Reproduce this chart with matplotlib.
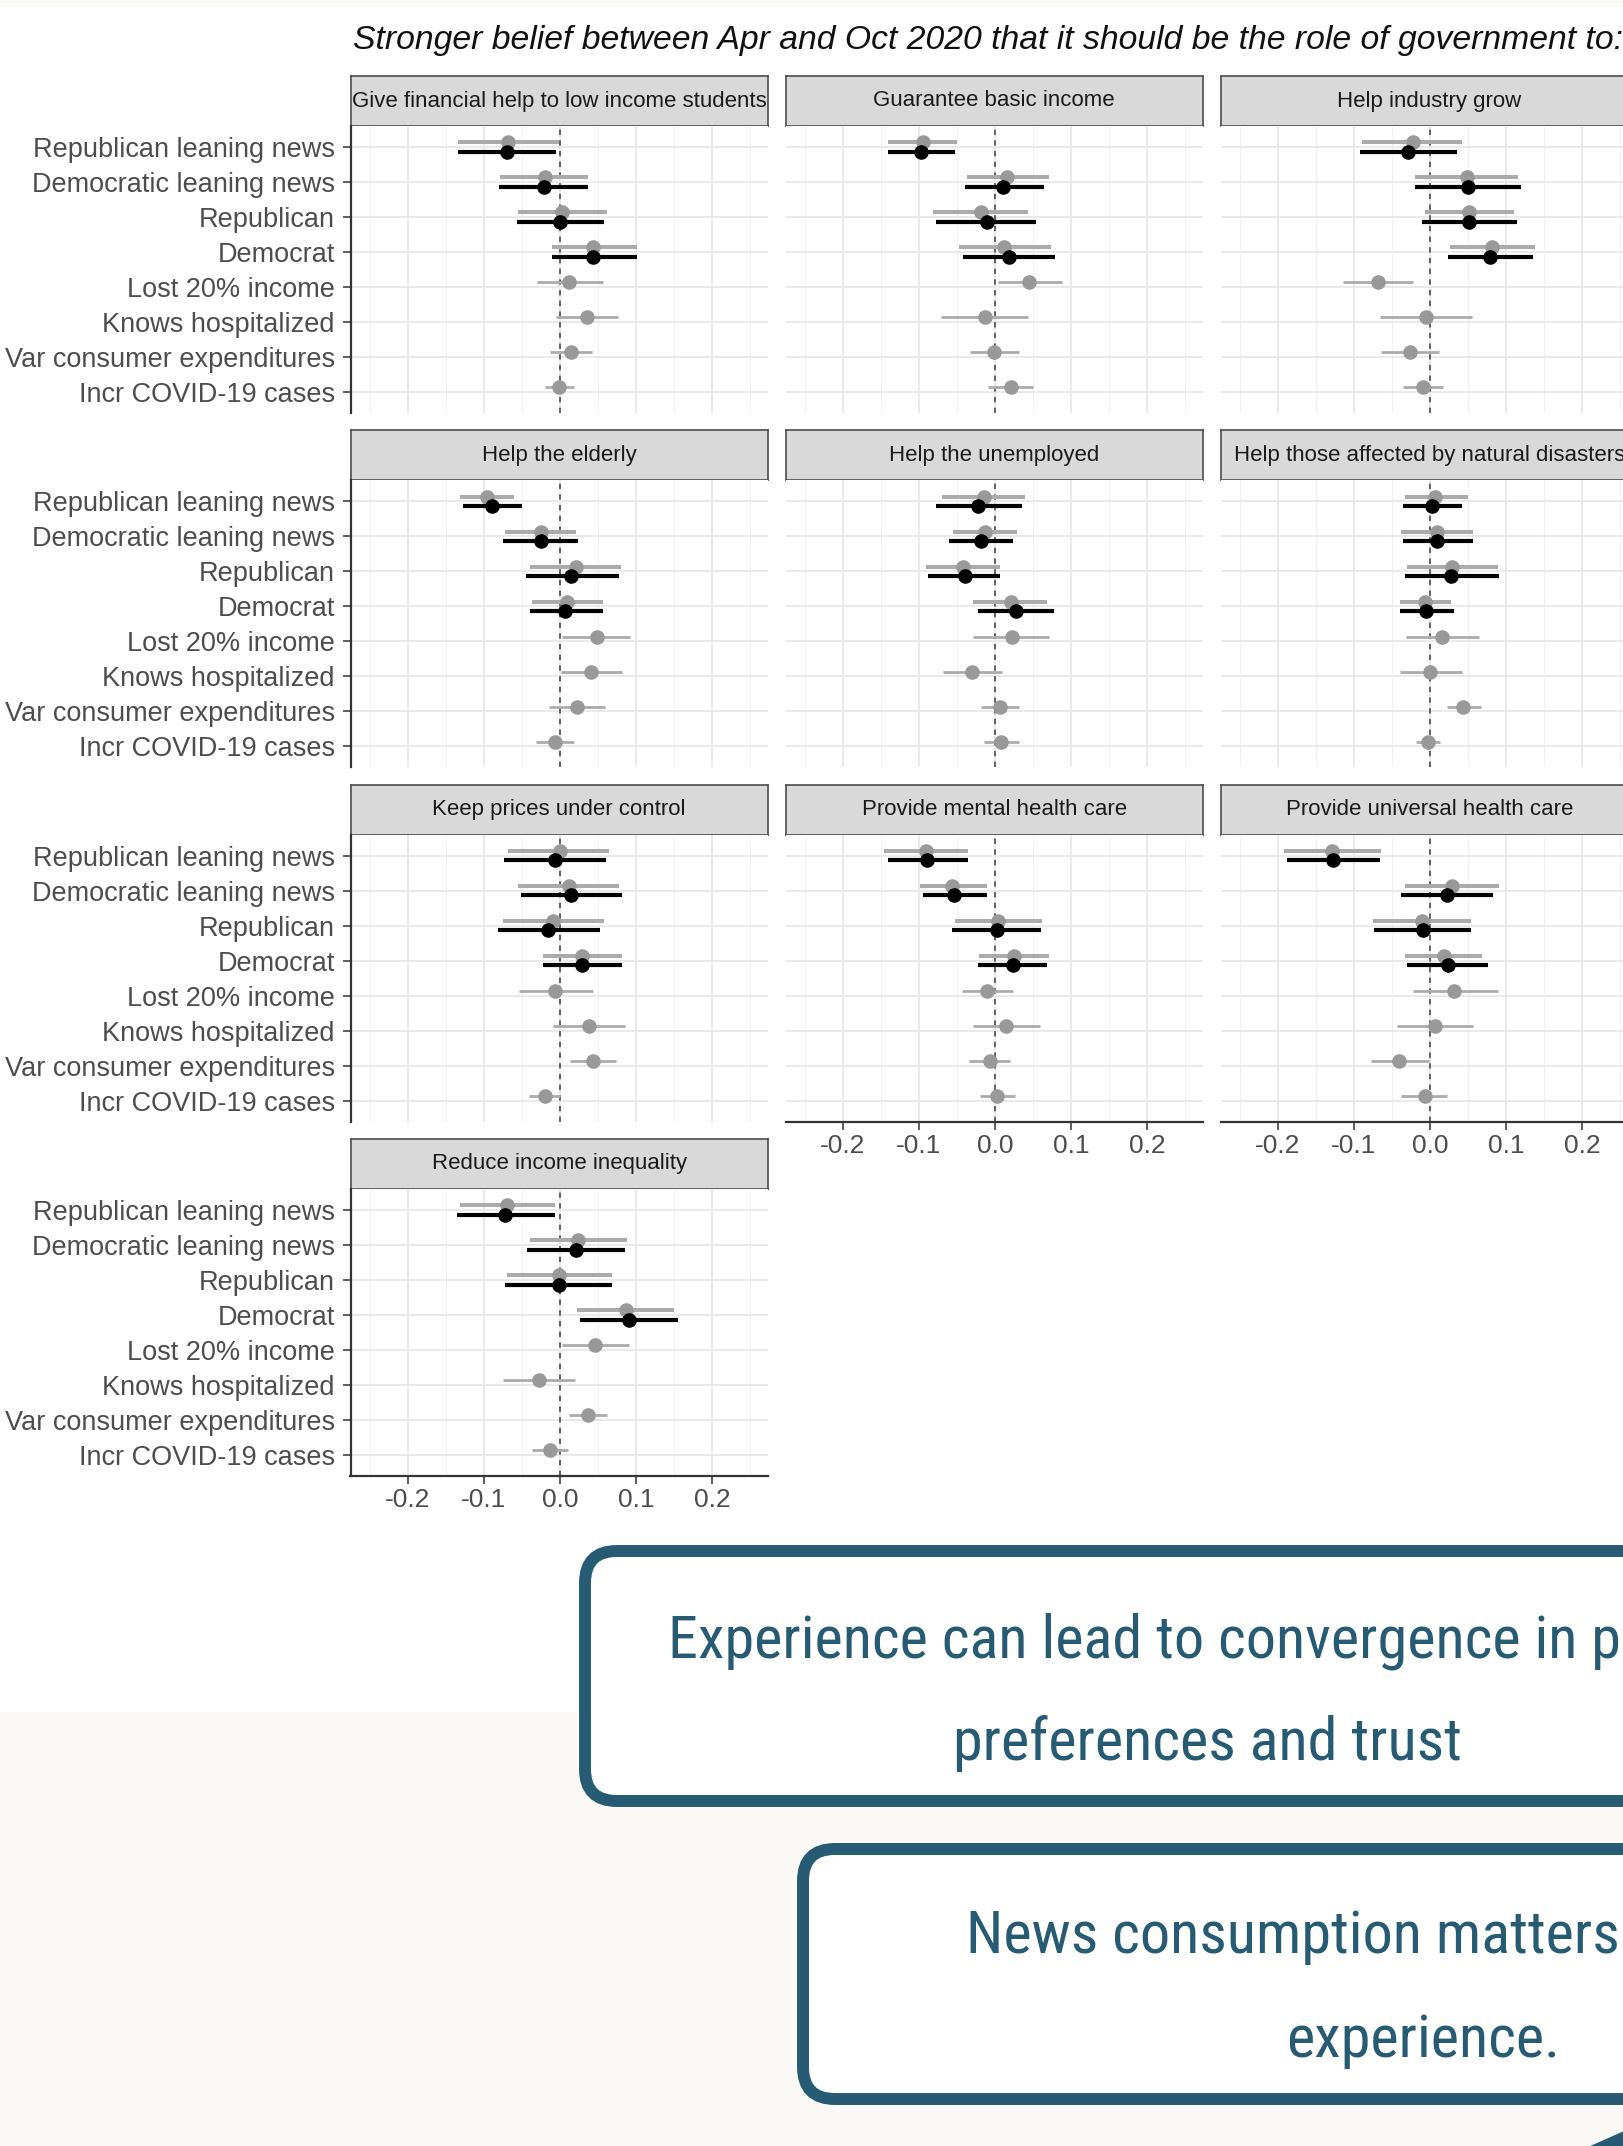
import matplotlib
matplotlib.use("Agg")
import matplotlib.pyplot as plt
from matplotlib import font_manager as fm
from matplotlib.patches import Rectangle, FancyBboxPatch, Polygon
import numpy as np

# canvas size in pixels (dpi 100)
W, H = 1623, 2146

# ---------------------------------------------------------------------------
# DATA
# ---------------------------------------------------------------------------
categories = ['Republican leaning news', 'Democratic leaning news', 'Republican',
              'Democrat', 'Lost 20% income', 'Knows hospitalized',
              'Var consumer expenditures', 'Incr COVID-19 cases']

panels = ['Give financial help to low income students', 'Guarantee basic income',
          'Help industry grow', 'Help the elderly', 'Help the unemployed',
          'Help those affected by natural disasters', 'Keep prices under control',
          'Provide mental health care', 'Provide universal health care',
          'Reduce income inequality']

# grey estimates: all 8 covariates
gray_est = [
    [-0.068, -0.020, 0.002, 0.044, 0.012, 0.036, 0.014, -0.001],
    [-0.095, 0.016, -0.018, 0.012, 0.045, -0.013, -0.001, 0.021],
    [-0.023, 0.048, 0.051, 0.082, -0.068, -0.005, -0.026, -0.009],
    [-0.096, -0.025, 0.021, 0.009, 0.048, 0.041, 0.022, -0.007],
    [-0.015, -0.013, -0.042, 0.021, 0.022, -0.030, 0.007, 0.008],
    [0.006, 0.009, 0.029, -0.006, 0.016, 0.000, 0.043, -0.003],
    [0.000, 0.012, -0.009, 0.029, -0.006, 0.038, 0.043, -0.020],
    [-0.091, -0.056, 0.004, 0.025, -0.010, 0.015, -0.007, 0.002],
    [-0.129, 0.029, -0.010, 0.018, 0.032, 0.006, -0.041, -0.007],
    [-0.070, 0.023, -0.001, 0.087, 0.046, -0.028, 0.037, -0.013],
]
gray_lo = [
    [-0.134, -0.079, -0.055, -0.011, -0.030, -0.005, -0.013, -0.020],
    [-0.141, -0.037, -0.082, -0.048, 0.004, -0.071, -0.033, -0.009],
    [-0.090, -0.020, -0.007, 0.026, -0.115, -0.066, -0.064, -0.035],
    [-0.131, -0.072, -0.039, -0.037, 0.003, 0.001, -0.014, -0.031],
    [-0.070, -0.055, -0.091, -0.029, -0.029, -0.068, -0.018, -0.015],
    [-0.033, -0.038, -0.030, -0.039, -0.031, -0.039, 0.022, -0.018],
    [-0.068, -0.055, -0.075, -0.022, -0.054, -0.009, 0.013, -0.041],
    [-0.146, -0.099, -0.052, -0.021, -0.043, -0.029, -0.034, -0.020],
    [-0.192, -0.033, -0.075, -0.033, -0.023, -0.043, -0.078, -0.038],
    [-0.132, -0.040, -0.070, 0.022, 0.003, -0.075, 0.012, -0.037],
]
gray_hi = [
    [-0.001, 0.037, 0.062, 0.101, 0.056, 0.076, 0.042, 0.019],
    [-0.050, 0.071, 0.044, 0.073, 0.088, 0.044, 0.031, 0.050],
    [0.042, 0.116, 0.110, 0.138, -0.022, 0.055, 0.012, 0.017],
    [-0.061, 0.021, 0.080, 0.056, 0.092, 0.082, 0.059, 0.018],
    [0.040, 0.029, 0.007, 0.069, 0.071, 0.009, 0.032, 0.032],
    [0.050, 0.056, 0.089, 0.028, 0.064, 0.042, 0.067, 0.013],
    [0.065, 0.078, 0.058, 0.081, 0.043, 0.085, 0.074, 0.000],
    [-0.036, -0.011, 0.062, 0.071, 0.024, 0.059, 0.020, 0.026],
    [-0.064, 0.091, 0.054, 0.069, 0.089, 0.057, -0.001, 0.022],
    [-0.007, 0.088, 0.068, 0.150, 0.091, 0.020, 0.062, 0.010],
]

# black estimates: only the first 4 covariates (news + party)
black_est = [
    [-0.070, -0.021, 0.000, 0.044],
    [-0.097, 0.011, -0.011, 0.018],
    [-0.029, 0.050, 0.051, 0.079],
    [-0.089, -0.025, 0.015, 0.007],
    [-0.022, -0.019, -0.040, 0.028],
    [0.002, 0.009, 0.028, -0.005],
    [-0.007, 0.015, -0.016, 0.029],
    [-0.089, -0.054, 0.002, 0.024],
    [-0.128, 0.022, -0.009, 0.024],
    [-0.072, 0.021, -0.001, 0.091],
]
black_lo = [
    [-0.134, -0.080, -0.057, -0.011],
    [-0.141, -0.040, -0.077, -0.042],
    [-0.092, -0.020, -0.010, 0.024],
    [-0.128, -0.075, -0.045, -0.040],
    [-0.078, -0.061, -0.088, -0.022],
    [-0.036, -0.036, -0.033, -0.039],
    [-0.074, -0.051, -0.082, -0.023],
    [-0.141, -0.095, -0.056, -0.023],
    [-0.188, -0.038, -0.074, -0.030],
    [-0.136, -0.043, -0.072, 0.026],
]
black_hi = [
    [-0.005, 0.037, 0.058, 0.101],
    [-0.053, 0.064, 0.054, 0.079],
    [0.035, 0.119, 0.114, 0.136],
    [-0.050, 0.024, 0.078, 0.057],
    [0.035, 0.024, 0.007, 0.077],
    [0.042, 0.057, 0.091, 0.031],
    [0.061, 0.081, 0.053, 0.081],
    [-0.036, -0.011, 0.061, 0.069],
    [-0.066, 0.083, 0.054, 0.076],
    [-0.007, 0.086, 0.069, 0.155],
]

x_ticks = [-0.2, -0.1, 0.0, 0.1, 0.2]
x_ticklabels = ['-0.2', '-0.1', '0.0', '0.1', '0.2']

title = 'Stronger belief between Apr and Oct 2020 that it should be the role of government to:'
box1_lines = ['Experience can lead to convergence in policy', 'preferences and trust']
box2_lines = ['News consumption matters', 'experience.']

# ---------------------------------------------------------------------------
# LAYOUT (pixels from top-left)
# ---------------------------------------------------------------------------
COL_X = [350.5, 785.5, 1220.5]
PANEL_W = 417.5
ROW_Y = [76, 430.3, 784.6, 1139]   # strip tops
STRIP_H = 50
PANEL_H = 287
XLIM = (-0.2755, 0.2735)
DODGE = 0.13

GRAY_PT = '#999999'
GRAY_LN = '#ababab'
TEAL = '#275b73'
BG = '#faf9f5'


def frac(x, y, w, h):
    return [x / W, 1 - (y + h) / H, w / W, h / H]


def narrow_font():
    """Pick the narrowest sans face that is actually installed."""
    for fam in ['Liberation Sans Narrow', 'Roboto Condensed', 'DejaVu Sans Condensed',
                'Open Sans Condensed', 'Noto Sans Condensed', 'Arial Narrow']:
        try:
            fm.findfont(fm.FontProperties(family=fam), fallback_to_default=False)
            return dict(family=fam)
        except ValueError:
            pass
    for fam in ['Noto Sans', 'DejaVu Sans', 'Open Sans', 'Roboto', 'Liberation Sans']:
        try:
            path = fm.findfont(fm.FontProperties(family=fam, stretch='condensed'),
                               fallback_to_default=False)
        except ValueError:
            continue
        low = path.lower()
        if 'condensed' in low or 'narrow' in low:
            return dict(family=fam, fontstretch='condensed')
    return dict(family='Liberation Sans')


fig = plt.figure(figsize=(W / 100, H / 100), dpi=100, facecolor=BG)
renderer = fig.canvas.get_renderer()


def fit_size(text, width_px, **kw):
    t = fig.text(0, 0, text, fontsize=100, **kw)
    w = t.get_window_extent(renderer=renderer).width
    t.remove()
    return 100 * width_px / w


# white backdrop behind the chart
bg = fig.add_axes([0, 0, 1, 1], zorder=-10)
bg.set_xlim(0, W)
bg.set_ylim(H, 0)
bg.axis('off')
bg.add_patch(Rectangle((0, 7), W, 1705, facecolor='white', edgecolor='none'))

yvals = np.arange(len(categories), 0, -1)  # top category at 8

for i, name in enumerate(panels):
    r, c = divmod(i, 3)
    x0 = COL_X[c]
    y0 = ROW_Y[r]
    bottom_panel = (r == 3) or (r == 2 and c > 0)

    # strip
    st = fig.add_axes(frac(x0, y0, PANEL_W, STRIP_H))
    st.set_facecolor('#d9d9d9')
    st.set_xticks([])
    st.set_yticks([])
    for s in st.spines.values():
        s.set_color('#4d4d4d')
        s.set_linewidth(1.2)
    st.text(0.5, 0.5, name, transform=st.transAxes, ha='center', va='center',
            fontsize=16, color='#1a1a1a', family='Liberation Sans', clip_on=True)

    ax = fig.add_axes(frac(x0, y0 + STRIP_H, PANEL_W, PANEL_H))
    ax.set_facecolor('white')
    ax.set_xlim(*XLIM)
    ax.set_ylim(0.4, 8.6)
    ax.set_xticks(x_ticks)
    ax.set_xticks([-0.25, -0.15, -0.05, 0.05, 0.15, 0.25], minor=True)
    ax.set_yticks(yvals)
    ax.set_axisbelow(True)
    ax.grid(which='major', color='#e8e8e8', lw=1.3)
    ax.grid(which='minor', axis='x', color='#f2f2f2', lw=0.8)
    ax.tick_params(which='minor', length=0)

    ax.axvline(0, color='#3d3d3d', lw=1.1, ls=(0, (3.5, 3.5)), zorder=1)

    # grey estimates (all covariates)
    ge = np.array(gray_est[i])
    gl = np.array(gray_lo[i])
    gh = np.array(gray_hi[i])
    lw_g = [2.9] * 4 + [2.0] * 4
    ax.hlines(yvals + DODGE, gl, gh, colors=GRAY_LN, lw=lw_g, zorder=2)
    ax.plot(ge, yvals + DODGE, 'o', color=GRAY_PT, ms=10.5, mec='none', zorder=3)

    # black estimates (first four)
    be = np.array(black_est[i])
    bl = np.array(black_lo[i])
    bh = np.array(black_hi[i])
    yb = yvals[:4] - DODGE
    ax.hlines(yb, bl, bh, colors='black', lw=3.0, zorder=4)
    ax.plot(be, yb, 'o', color='black', ms=10.5, mec='none', zorder=5)

    for s in ['top', 'right']:
        ax.spines[s].set_visible(False)
    ax.spines['left'].set_visible(c == 0)
    ax.spines['bottom'].set_visible(bottom_panel)
    for s in ['left', 'bottom']:
        ax.spines[s].set_color('#333333')
        ax.spines[s].set_linewidth(1.6)

    if c == 0:
        ax.set_yticklabels(categories)
        ax.tick_params(axis='y', which='major', length=5.8, width=1.1,
                       color='#333333', labelsize=19.5, labelcolor='#4d4d4d', pad=5.5)
    else:
        ax.tick_params(axis='y', which='major', length=0, labelleft=False)

    if bottom_panel:
        ax.set_xticklabels(x_ticklabels)
        ax.tick_params(axis='x', which='major', length=5.8, width=1.1,
                       color='#333333', labelsize=19, labelcolor='#4d4d4d', pad=3)
    else:
        ax.tick_params(axis='x', which='major', length=0, labelbottom=False)

    for lab in ax.get_xticklabels() + ax.get_yticklabels():
        lab.set_family('Liberation Sans')

# overlay for title and call-out boxes
ov = fig.add_axes([0, 0, 1, 1], zorder=20)
ov.set_xlim(0, W)
ov.set_ylim(H, 0)
ov.axis('off')
ov.patch.set_alpha(0)

tsize = fit_size(title, 1272, family='Liberation Sans', style='italic')
ov.text(353, 49, title, fontsize=tsize, family='Liberation Sans', style='italic',
        color='#111111', ha='left', va='baseline')

box_font = narrow_font()
bsize = fit_size(box1_lines[1], 509, **box_font)

for (bx, by, bw, bh) in [(585, 1551, 1300, 250), (803, 1849, 1100, 250)]:
    ov.add_patch(FancyBboxPatch((bx, by), bw, bh,
                                boxstyle='round,pad=0,rounding_size=32',
                                facecolor='white', edgecolor=TEAL, lw=8.6,
                                zorder=1))
# corner of a third call-out peeking in at the bottom right
ov.add_patch(Polygon([(1588, 2147), (1624, 2131), (1624, 2147)], closed=True,
                     facecolor=TEAL, edgecolor='none', zorder=1))

ov.text(668, 1657, box1_lines[0], fontsize=bsize, color=TEAL, ha='left',
        va='baseline', zorder=2, **box_font)
ov.text(1207, 1760, box1_lines[1], fontsize=bsize, color=TEAL, ha='center',
        va='baseline', zorder=2, **box_font)
ov.text(966, 1953, box2_lines[0], fontsize=bsize, color=TEAL, ha='left',
        va='baseline', zorder=2, **box_font)
ov.text(1423, 2057, box2_lines[1], fontsize=bsize, color=TEAL, ha='center',
        va='baseline', zorder=2, **box_font)

fig.savefig('out.png', dpi=100, facecolor=fig.get_facecolor())
